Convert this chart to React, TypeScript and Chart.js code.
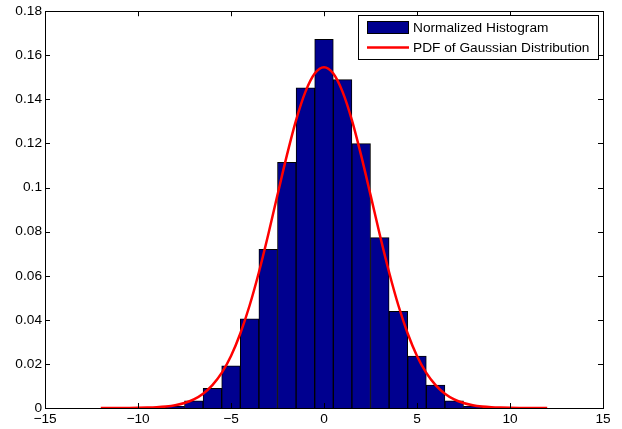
import { useEffect, useRef } from "react";
import { Chart, registerables } from "chart.js";

Chart.register(...registerables);

// Histogram bins (centre of each unit-wide bin) and their normalized heights
const binCenters = [-10, -9, -8, -7, -6, -5, -4, -3, -2, -1, 0, 1, 2, 3, 4, 5, 6, 7, 8, 9, 10];
const binDensity = [
  0.0001, 0.0003, 0.0008, 0.0033, 0.0089, 0.0191, 0.0405, 0.072, 0.1114, 0.1453, 0.1672,
  0.149, 0.1199, 0.0773, 0.0438, 0.0236, 0.0104, 0.0033, 0.0008, 0.0003, 0.0001,
];

// Sampled Gaussian density curve
const pdfX = [
  -12, -11.5, -11, -10.5, -10, -9.5, -9, -8.5, -8, -7.5, -7, -6.5, -6, -5.5, -5, -4.5, -4, -3.5,
  -3, -2.5, -2, -1.5, -1, -0.5, 0, 0.5, 1, 1.5, 2, 2.5, 3, 3.5, 4, 4.5, 5, 5.5, 6, 6.5, 7, 7.5,
  8, 8.5, 9, 9.5, 10, 10.5, 11, 11.5, 12,
];
const pdfY = [
  0.000003, 0.0000075, 0.0000174, 0.000039, 0.000085, 0.00018, 0.00035, 0.00068, 0.00126,
  0.00226, 0.0039, 0.00647, 0.01035, 0.0159, 0.0236, 0.0338, 0.0465, 0.0616, 0.0786, 0.0967,
  0.1145, 0.1306, 0.1434, 0.1517, 0.1546, 0.1517, 0.1434, 0.1306, 0.1145, 0.0967, 0.0786,
  0.0616, 0.0465, 0.0338, 0.0236, 0.0159, 0.01035, 0.00647, 0.0039, 0.00226, 0.00126, 0.00068,
  0.00035, 0.00018, 0.000085, 0.000039, 0.0000174, 0.0000075, 0.000003,
];

// Axis ticks and their labels
const xTicks = [-15, -10, -5, 0, 5, 10, 15];
const xTickLabels = ["\u221215", "\u221210", "\u22125", "0", "5", "10", "15"];
const yTicks = [0, 0.02, 0.04, 0.06, 0.08, 0.1, 0.12, 0.14, 0.16, 0.18];
const yTickLabels = ["0", "0.02", "0.04", "0.06", "0.08", "0.1", "0.12", "0.14", "0.16", "0.18"];

const legendLabels = ["Normalized Histogram", "PDF of Gaussian Distribution"];

const FONT = "'Liberation Sans', Arial, Helvetica, sans-serif";
const FONT_SIZE = 13.7;
const BAR_COLOR = "rgb(0,0,143)";
const LINE_COLOR = "rgb(255,0,0)";

// Box around the axes with inward tick marks on all four sides, plus the legend
const framePlugin = {
  id: "frame",
  afterDraw(chart: any) {
    const { ctx, chartArea } = chart;
    const { left, right, top, bottom } = chartArea;
    const xs = chart.scales.x;
    const ys = chart.scales.y;
    const tl = 5;
    ctx.save();
    ctx.strokeStyle = "#000";
    ctx.lineWidth = 1;
    ctx.beginPath();
    for (const v of xTicks) {
      const px = Math.round(xs.getPixelForValue(v)) + 0.5;
      ctx.moveTo(px, bottom);
      ctx.lineTo(px, bottom - tl);
      ctx.moveTo(px, top);
      ctx.lineTo(px, top + tl);
    }
    for (const v of yTicks) {
      const py = Math.round(ys.getPixelForValue(v)) + 0.5;
      ctx.moveTo(left, py);
      ctx.lineTo(left + tl, py);
      ctx.moveTo(right, py);
      ctx.lineTo(right - tl, py);
    }
    ctx.stroke();
    ctx.strokeRect(Math.round(left) + 0.5, Math.round(top) + 0.5, Math.round(right - left), Math.round(bottom - top));

    // legend
    const lx = 358.5;
    const ly = 15.5;
    const lw = 240;
    const lh = 44;
    ctx.fillStyle = "#fff";
    ctx.fillRect(lx, ly, lw, lh);
    ctx.strokeStyle = "#000";
    ctx.strokeRect(lx, ly, lw, lh);

    ctx.fillStyle = BAR_COLOR;
    ctx.fillRect(367, 21, 42, 13);
    ctx.strokeRect(367.5, 21.5, 41, 12);

    ctx.strokeStyle = LINE_COLOR;
    ctx.lineWidth = 2.5;
    ctx.beginPath();
    ctx.moveTo(367, 47.5);
    ctx.lineTo(409, 47.5);
    ctx.stroke();

    ctx.fillStyle = "#000";
    ctx.font = `${FONT_SIZE}px ${FONT}`;
    ctx.textBaseline = "middle";
    ctx.textAlign = "left";
    ctx.fillText(legendLabels[0], 413, 28);
    ctx.fillText(legendLabels[1], 413, 48);
    ctx.restore();
  },
};

export default function App() {
  const ref = useRef<HTMLCanvasElement | null>(null);

  useEffect(() => {
    if (!ref.current) return;
    const chart = new Chart(ref.current, {
      type: "bar",
      data: {
        datasets: [
          {
            type: "line",
            label: legendLabels[1],
            data: pdfX.map((x, i) => ({ x, y: pdfY[i] })),
            borderColor: LINE_COLOR,
            borderWidth: 2.5,
            pointRadius: 0,
            fill: false,
            cubicInterpolationMode: "monotone",
            order: 1,
          } as any,
          {
            type: "bar",
            label: legendLabels[0],
            data: binCenters.map((x, i) => ({ x, y: binDensity[i] })),
            backgroundColor: BAR_COLOR,
            borderColor: "#000",
            borderWidth: 1,
            barPercentage: 1,
            categoryPercentage: 1,
            order: 2,
          } as any,
        ],
      },
      options: {
        animation: false,
        responsive: false,
        maintainAspectRatio: false,
        layout: { padding: { left: 0, right: 19, top: 9, bottom: 0 } },
        plugins: {
          legend: { display: false },
          tooltip: { enabled: false },
        },
        scales: {
          x: {
            type: "linear",
            min: -15,
            max: 15,
            offset: false,
            grid: { display: false, drawTicks: false },
            border: { display: false },
            afterBuildTicks: (s: any) => {
              s.ticks = xTicks.map((v) => ({ value: v }));
            },
            afterFit: (s: any) => {
              s.height = 21;
            },
            ticks: {
              autoSkip: false,
              maxRotation: 0,
              padding: 3,
              color: "#000",
              font: { family: FONT, size: FONT_SIZE },
              callback: (v: any) => xTickLabels[xTicks.indexOf(Number(v))] ?? "",
            },
          },
          y: {
            type: "linear",
            min: 0,
            max: 0.18,
            grid: { display: false, drawTicks: false },
            border: { display: false },
            afterBuildTicks: (s: any) => {
              s.ticks = yTicks.map((v) => ({ value: v }));
            },
            afterFit: (s: any) => {
              s.width = 45;
            },
            ticks: {
              autoSkip: false,
              padding: 3,
              color: "#000",
              font: { family: FONT, size: FONT_SIZE },
              callback: (v: any) => {
                const i = yTicks.findIndex((t) => Math.abs(t - Number(v)) < 1e-9);
                return i >= 0 ? yTickLabels[i] : "";
              },
            },
          },
        },
      },
      plugins: [framePlugin],
    });
    return () => chart.destroy();
  }, []);

  return (
    <div style={{ position: "absolute", left: 0, top: 0, width: 622, height: 429, background: "#fff" }}>
      <canvas ref={ref} width={622} height={429} style={{ display: "block" }} />
    </div>
  );
}
